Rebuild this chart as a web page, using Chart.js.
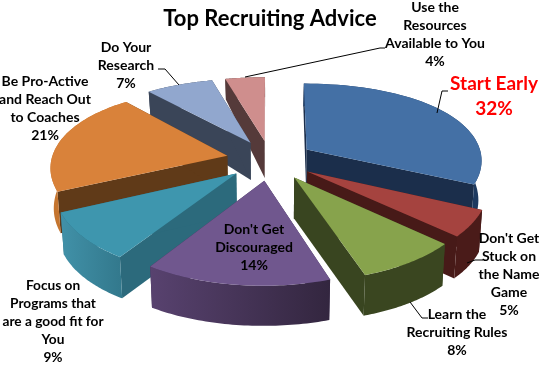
<!DOCTYPE html>
<html>
<head>
<meta charset="utf-8">
<style>html,body{margin:0;padding:0;background:#fff}canvas{display:block}</style>
<script src="https://cdn.jsdelivr.net/npm/chart.js@4"></script>
</head>
<body>
<canvas id="c" width="540" height="366"></canvas>
<script>
const categories = ["Start Early","Don't Get Stuck on the Name Game","Learn the Recruiting Rules","Don't Get Discouraged","Focus on Programs that are a good fit for You","Be Pro-Active and Reach Out to Coaches","Do Your Research","Use the Resources Available to You"];
const values = [32,5,8,14,9,21,7,4];
const titleText = "Top Recruiting Advice";
const labelLines = [["Start Early"],["Don't Get","Stuck on","the Name","Game"],["Learn the","Recruiting Rules"],["Don't Get","Discouraged"],["Focus on","Programs that","are a good fit for","You"],["Be Pro-Active","and Reach Out","to Coaches"],["Do Your","Research"],["Use the","Resources","Available to You"]];
const topColors = ["#4470A5","#A5433F","#87A34C","#70578E","#3E96AE","#D9823A","#91A7CE","#CF8E8D"];
const radialWall = ["#1B2E4B","#471A18","#394520","#3E2F55","#2C6A7C","#603A18","#3A4558","#553A3A"];
const rimLeft = ["#1E3A60","#4A1B19","#3A4620","#58426F","#4191A8","#C5752F","#3A4558","#553A3A"];
const rimRight = ["#1E3A60","#4A1B19","#3A4620","#33263F","#33798D","#C5752F","#3A4558","#553A3A"];
const drawOrder = [7,6,0,5,4,1,2,3];
const explode = [0.25,0.25,0.25,0.25,0.25,0.25,0.25,0.25];
const view = {cx:270,cy:160,Ax:176,kx:0.12,qx:0.03,B:80,k:0.165};
function project(x,y){return [view.cx+view.Ax*x/(1-view.kx*y-view.qx*y*y),view.cy+view.B*y/(1-view.k*y)];}
function depth(y){return 39.4+8.04*y-5.97*y*y;}
function lower(x,y){const p=project(x,y);return [view.cx+(p[0]-view.cx)*0.985,p[1]+depth(y)];}
const labelLayout = [
 {x:494,y:84,size:19,color:"#FF0000",gap:25,line:[[437,113],[442,91],[448,91]]},
 {x:509,y:238,size:14,color:"#000",gap:18,line:[[467,263],[475,260],[483,260]]},
 {x:457,y:314,size:14,color:"#000",gap:18,line:[[410,302],[422,318],[428,318]]},
 {x:254,y:229,size:14,color:"#000",gap:18},
 {x:53,y:286,size:13.7,color:"#000",gap:18},
 {x:45,y:81,size:14,color:"#000",gap:18},
 {x:126,y:47,size:14,color:"#000",gap:18,line:[[179,85],[165,69],[158,69]]},
 {x:435,y:7,size:14,color:"#000",gap:18,line:[[245,77],[380,48],[385,48]]}
];
function path(ctx,pts){ctx.beginPath();pts.forEach((p,i)=>i?ctx.lineTo(p[0],p[1]):ctx.moveTo(p[0],p[1]));ctx.closePath();}
const pie3d = {
 id:"pie3d",
 beforeDatasetDraw(chart,args){
  const ctx=chart.ctx,arcs=args.meta.data;
  drawOrder.forEach(i=>{
   const el=arcs[i],mid=(el.startAngle+el.endAngle)/2;
   const ox=explode[i]*Math.cos(mid),oy=explode[i]*Math.sin(mid);
   const plane=[];
   const steps=48;
   for(let s=0;s<=steps;s++){const a=el.startAngle+(el.endAngle-el.startAngle)*s/steps;plane.push([ox+Math.cos(a),oy+Math.sin(a)]);}
   const top=plane.map(p=>project(p[0],p[1])),bot=plane.map(p=>lower(p[0],p[1]));
   const at=project(ox,oy),ab=lower(ox,oy);
   ctx.fillStyle=radialWall[i];
   path(ctx,[at,top[0],bot[0],ab]);ctx.fill();
   path(ctx,[at,top[steps],bot[steps],ab]);ctx.fill();
   const xs=top.map(p=>p[0]);
   const g=ctx.createLinearGradient(Math.min(...xs),0,Math.max(...xs),0);
   g.addColorStop(0,rimLeft[i]);g.addColorStop(1,rimRight[i]);
   ctx.fillStyle=g;
   path(ctx,top.concat(bot.slice().reverse()));ctx.fill();
   ctx.fillStyle=topColors[i];
   path(ctx,[at].concat(top));ctx.fill();
  });
  return false;
 },
 afterDatasetsDraw(chart){
  const ctx=chart.ctx;
  ctx.save();
  ctx.strokeStyle="#000";ctx.lineWidth=1;
  labelLayout.forEach((l,i)=>{
   if(l.line){ctx.beginPath();l.line.forEach((p,j)=>j?ctx.lineTo(p[0],p[1]):ctx.moveTo(p[0],p[1]));ctx.stroke();}
   ctx.fillStyle=l.color;ctx.font="bold "+l.size+"px Lato";ctx.textAlign="center";ctx.textBaseline="middle";
   labelLines[i].concat([values[i]+"%"]).forEach((t,j)=>ctx.fillText(t,l.x,l.y+j*l.gap));
  });
  ctx.restore();
 }
};
new Chart(document.getElementById("c"),{
 type:"pie",
 data:{labels:categories,datasets:[{data:values,backgroundColor:topColors,borderWidth:0}]},
 plugins:[pie3d],
 options:{responsive:false,animation:false,
  plugins:{legend:{display:false},tooltip:{enabled:false},
   title:{display:true,text:titleText,color:"#000",font:{family:"Lato",size:22,weight:"bold"},padding:{top:6,bottom:0}}}}
});
</script>
</body>
</html>
